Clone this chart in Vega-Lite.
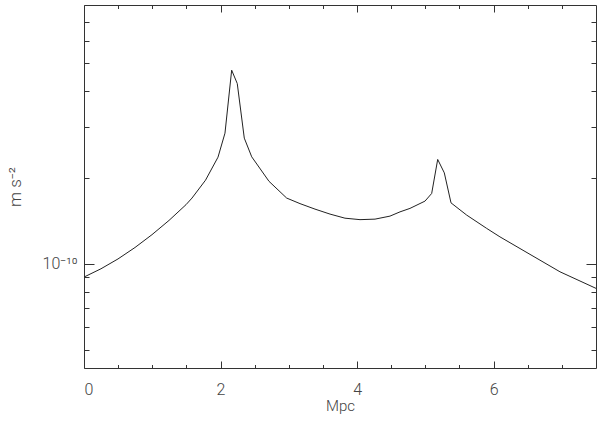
{
  "$schema": "https://vega.github.io/schema/vega-lite/v6.json",
  "width": 512,
  "height": 363,
  "autosize": {"type": "none"},
  "padding": {"left": 84, "top": 5, "right": 4, "bottom": 55},
  "background": "white",
  "config": {
    "view": {"stroke": "#333", "strokeWidth": 1},
    "axis": {
      "domain": false,
      "grid": false,
      "tickColor": "#333",
      "tickWidth": 1,
      "labelFont": "Roboto",
      "labelFontWeight": 300,
      "labelColor": "#444",
      "titleFont": "Roboto",
      "titleFontWeight": 300,
      "titleColor": "#444"
    }
  },
  "data": {
    "values": [
      {"mpc": 0.0, "acc": 8.99e-11},
      {"mpc": 0.249, "acc": 9.61e-11},
      {"mpc": 0.498, "acc": 1.040e-10},
      {"mpc": 0.747, "acc": 1.140e-10},
      {"mpc": 0.996, "acc": 1.264e-10},
      {"mpc": 1.245, "acc": 1.417e-10},
      {"mpc": 1.494, "acc": 1.608e-10},
      {"mpc": 1.582, "acc": 1.696e-10},
      {"mpc": 1.780, "acc": 1.958e-10},
      {"mpc": 1.963, "acc": 2.356e-10},
      {"mpc": 2.065, "acc": 2.857e-10},
      {"mpc": 2.163, "acc": 4.739e-10},
      {"mpc": 2.245, "acc": 4.257e-10},
      {"mpc": 2.348, "acc": 2.745e-10},
      {"mpc": 2.457, "acc": 2.362e-10},
      {"mpc": 2.710, "acc": 1.940e-10},
      {"mpc": 2.969, "acc": 1.696e-10},
      {"mpc": 3.164, "acc": 1.622e-10},
      {"mpc": 3.384, "acc": 1.552e-10},
      {"mpc": 3.604, "acc": 1.491e-10},
      {"mpc": 3.823, "acc": 1.443e-10},
      {"mpc": 4.043, "acc": 1.426e-10},
      {"mpc": 4.263, "acc": 1.432e-10},
      {"mpc": 4.482, "acc": 1.467e-10},
      {"mpc": 4.629, "acc": 1.518e-10},
      {"mpc": 4.775, "acc": 1.561e-10},
      {"mpc": 4.995, "acc": 1.655e-10},
      {"mpc": 5.093, "acc": 1.760e-10},
      {"mpc": 5.181, "acc": 2.313e-10},
      {"mpc": 5.278, "acc": 2.077e-10},
      {"mpc": 5.376, "acc": 1.632e-10},
      {"mpc": 5.606, "acc": 1.479e-10},
      {"mpc": 5.899, "acc": 1.329e-10},
      {"mpc": 6.093, "acc": 1.242e-10},
      {"mpc": 6.533, "acc": 1.079e-10},
      {"mpc": 6.972, "acc": 9.38e-11},
      {"mpc": 7.5, "acc": 8.21e-11}
    ]
  },
  "layer": [
    {
      "mark": {"type": "line", "color": "#222", "strokeWidth": 1},
      "encoding": {
        "x": {"field": "mpc", "type": "quantitative",
          "scale": {"domain": [0, 7.5], "nice": false, "zero": false},
          "axis": {"orient": "bottom", "values": [0, 2, 4, 6], "format": "d", "ticks": false,
            "labelFontSize": 16, "labelPadding": 13, "title": "Mpc", "titleFontSize": 15, "titlePadding": 1}},
        "y": {"field": "acc", "type": "quantitative",
          "scale": {"type": "log", "domain": [4.33e-11, 8e-10], "nice": false},
          "axis": {"orient": "left", "values": [1e-10], "labelExpr": "'10⁻¹⁰'", "ticks": false,
            "labelFontSize": 16, "labelPadding": 7, "title": "m s⁻²", "titleFontSize": 17, "titlePadding": 18}}
      }
    },
    {
      "mark": {"type": "line", "opacity": 0},
      "encoding": {
        "x": {"field": "mpc", "type": "quantitative",
          "scale": {"domain": [0, 7.5], "nice": false, "zero": false},
          "axis": {"orient": "bottom", "values": [0, 2, 4, 6], "labels": false, "tickSize": -7, "title": null}},
        "y": {"field": "acc", "type": "quantitative",
          "scale": {"type": "log", "domain": [4.33e-11, 8e-10], "nice": false},
          "axis": {"orient": "left", "values": [1e-10], "labels": false, "tickSize": -10, "title": null}}
      }
    },
    {
      "mark": {"type": "line", "opacity": 0},
      "encoding": {
        "x": {"field": "mpc", "type": "quantitative",
          "scale": {"domain": [0, 7.5], "nice": false, "zero": false},
          "axis": {"orient": "bottom", "values": [0.5, 1, 1.5, 2.5, 3, 3.5, 4.5, 5, 5.5, 6.5, 7], "labels": false, "tickSize": -3.5, "title": null}},
        "y": {"field": "acc", "type": "quantitative",
          "scale": {"type": "log", "domain": [4.33e-11, 8e-10], "nice": false},
          "axis": {"orient": "left", "values": [5e-11, 6e-11, 7e-11, 8e-11, 9e-11, 2e-10, 3e-10, 4e-10, 5e-10, 6e-10, 7e-10], "labels": false, "tickSize": -5, "title": null}}
      }
    },
    {
      "mark": {"type": "line", "opacity": 0},
      "encoding": {
        "x": {"field": "mpc", "type": "quantitative",
          "scale": {"domain": [0, 7.5], "nice": false, "zero": false},
          "axis": {"orient": "top", "values": [0, 2, 4, 6], "labels": false, "tickSize": -7, "title": null}},
        "y": {"field": "acc", "type": "quantitative",
          "scale": {"type": "log", "domain": [4.33e-11, 8e-10], "nice": false},
          "axis": {"orient": "right", "values": [1e-10], "labels": false, "tickSize": -10, "title": null}}
      }
    },
    {
      "mark": {"type": "line", "opacity": 0},
      "encoding": {
        "x": {"field": "mpc", "type": "quantitative",
          "scale": {"domain": [0, 7.5], "nice": false, "zero": false},
          "axis": {"orient": "top", "values": [0.5, 1, 1.5, 2.5, 3, 3.5, 4.5, 5, 5.5, 6.5, 7], "labels": false, "tickSize": -3.5, "title": null}},
        "y": {"field": "acc", "type": "quantitative",
          "scale": {"type": "log", "domain": [4.33e-11, 8e-10], "nice": false},
          "axis": {"orient": "right", "values": [5e-11, 6e-11, 7e-11, 8e-11, 9e-11, 2e-10, 3e-10, 4e-10, 5e-10, 6e-10, 7e-10], "labels": false, "tickSize": -5, "title": null}}
      }
    }
  ],
  "resolve": {"axis": {"x": "independent", "y": "independent"}}
}
